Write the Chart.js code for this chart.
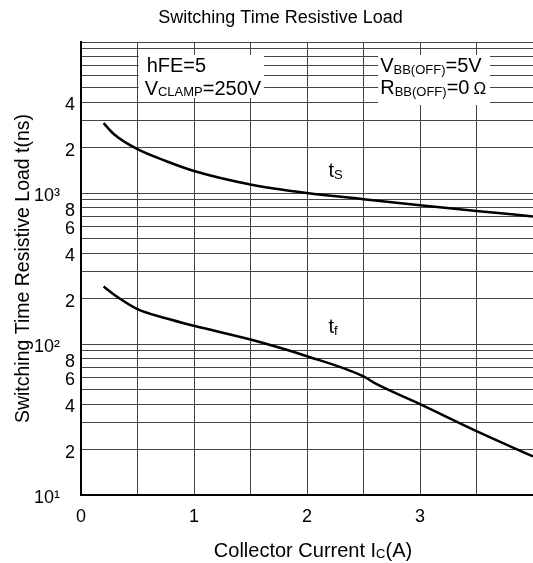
<!DOCTYPE html>
<html lang="en">
<head>
  <meta charset="UTF-8">
  <title>Switching Time Resistive Load</title>
  <script src="https://cdn.jsdelivr.net/npm/chart.js"></script>
  <style>
    body { margin: 0; background: #fff; }
  </style>
</head>
<body>
  <canvas id="chart" width="533" height="563"></canvas>

  <script>
    // Collector current (A) and switching times (ns)
    const icTs = [0.2, 0.3, 0.5, 0.75, 1, 1.5, 2, 2.5, 3, 3.5, 4];
    const tsValues = [2900, 2420, 1950, 1630, 1400, 1140, 1000, 910, 830, 760, 700];
    const icTf = [0.2, 0.3, 0.5, 0.75, 1, 1.5, 2, 2.5, 2.6, 3, 3.5, 4];
    const tfValues = [240, 210, 170, 148, 132, 107, 83, 61, 55, 40, 26.5, 18];

    const xLabels = ['0', '1', '2', '3'];
    const yDecades = [10, 100, 1000];
    const yMantissas = [1, 2, 3, 4, 5, 6, 7, 8, 9];
    const yMinorLabels = [2, 4, 6, 8];
    const supDigits = ['\u2070', '\u00b9', '\u00b2', '\u00b3', '\u2074'];

    const FONT = 'Arial, "Liberation Sans", sans-serif';

    function toPoints(xs, ys) {
      return xs.map((x, i) => ({ x: x, y: ys[i] }));
    }

    // parts: [text, fontSize, dy]
    function drawParts(ctx, x, y, parts) {
      for (const [text, size, dy] of parts) {
        ctx.font = size + 'px ' + FONT;
        ctx.fillText(text, x, y + dy);
        x += ctx.measureText(text).width;
      }
      return x;
    }
    function partsWidth(ctx, parts) {
      let w = 0;
      for (const [text, size] of parts) {
        ctx.font = size + 'px ' + FONT;
        w += ctx.measureText(text).width;
      }
      return w;
    }

    const annotations = {
      id: 'annotations',
      afterDatasetsDraw(chart) {
        const { ctx, scales: { x, y } } = chart;
        ctx.save();
        ctx.textAlign = 'left';
        ctx.textBaseline = 'alphabetic';

        // boxes that blank the grid behind the condition text
        const boxL = { x0: x.getPixelForValue(0.51), x1: x.getPixelForValue(1.62) };
        const boxR = { x0: x.getPixelForValue(2.63), x1: x.getPixelForValue(3.62) };
        const top = y.getPixelForValue(8200);
        ctx.fillStyle = '#fff';
        ctx.fillRect(boxL.x0, top, boxL.x1 - boxL.x0, 43);
        ctx.fillRect(boxR.x0, top, boxR.x1 - boxR.x0, 50);

        ctx.fillStyle = '#000';
        drawParts(ctx, boxL.x0 + 8, top + 17, [['hFE=5', 20, 0]]);
        drawParts(ctx, boxL.x0 + 6, top + 40, [['V', 20, 0], ['CLAMP', 13, 1], ['=250V', 20, 0]]);
        drawParts(ctx, boxR.x0 + 2, top + 17, [['V', 20, 0], ['BB(OFF)', 13, 2], ['=5V', 20, 0]]);
        const rx = drawParts(ctx, boxR.x0 + 2, top + 39, [['R', 20, 0], ['BB(OFF)', 13, 2], ['=0', 20, 0]]);
        drawParts(ctx, rx + 4, top + 39, [['\u03a9', 17, 0]]);

        // curve labels
        drawParts(ctx, x.getPixelForValue(2.19), y.getPixelForValue(1276), [['t', 20, 0], ['S', 13, 2]]);
        drawParts(ctx, x.getPixelForValue(2.19), y.getPixelForValue(118), [['t', 20, 0], ['f', 13, 2]]);

        // chart title
        ctx.textAlign = 'center';
        drawParts(ctx, 280.5, 23, [['Switching Time Resistive Load', 18, 0]]);
        ctx.textAlign = 'left';

        // x axis title with subscript
        const xParts = [['Collector Current I', 20, 0], ['C', 13, 1], ['(A)', 20, 0]];
        const w = partsWidth(ctx, xParts);
        drawParts(ctx, 313 - w / 2, 557, xParts);
        ctx.restore();
      }
    };

    const gridColor = '#444';

    new Chart(document.getElementById('chart'), {
      type: 'line',
      data: {
        datasets: [
          { label: 'ts', data: toPoints(icTs, tsValues), borderColor: '#000', borderWidth: 2.5,
            pointRadius: 0, cubicInterpolationMode: 'monotone', fill: false },
          { label: 'tf', data: toPoints(icTf, tfValues), borderColor: '#000', borderWidth: 2.5,
            pointRadius: 0, cubicInterpolationMode: 'monotone', fill: false }
        ]
      },
      options: {
        responsive: false,
        animation: false,
        layout: { padding: { top: 42, left: 0, right: 0, bottom: 0 } },
        plugins: {
          legend: { display: false },
          tooltip: { enabled: false },
          title: { display: false }
        },
        scales: {
          x: {
            type: 'linear',
            min: 0,
            max: 4,
            afterFit(scale) {
              scale.height = 68;
              scale.paddingLeft = 0;
              scale.paddingRight = 0;
            },
            grid: { color: gridColor, lineWidth: 1, drawTicks: false },
            border: { display: true, color: '#000', width: 2 },
            ticks: {
              stepSize: 0.5,
              autoSkip: false,
              maxRotation: 0,
              padding: 11,
              color: '#000',
              font: { family: FONT, size: 18 },
              callback(v) {
                return Number.isInteger(v) && v < xLabels.length ? xLabels[v] : '';
              }
            }
          },
          y: {
            type: 'logarithmic',
            min: 10,
            max: 10000,
            afterFit(scale) {
              scale.width = 81;
              scale.paddingTop = 0;
              scale.paddingBottom = 0;
            },
            afterBuildTicks(scale) {
              const ticks = [];
              yDecades.forEach(d => yMantissas.forEach(m => ticks.push({ value: m * d })));
              ticks.push({ value: 10000 });
              scale.ticks = ticks;
            },
            grid: { color: gridColor, lineWidth: 1, drawTicks: false },
            border: { display: true, color: '#000', width: 2 },
            title: {
              display: true,
              text: 'Switching Time Resistive Load t(ns)',
              color: '#000',
              font: { family: FONT, size: 19.5, lineHeight: 1.2 },
              padding: { top: 12, bottom: 0 }
            },
            ticks: {
              autoSkip: false,
              padding: 6,
              labelOffset: 3,
              color: '#000',
              font: { family: FONT, size: 18 },
              callback(v) {
                const e = Math.floor(Math.log10(v) + 1e-9);
                const m = Math.round(v / Math.pow(10, e));
                if (m === 1) return e < 4 ? '10' + supDigits[e] + '   ' : '';
                if (yMinorLabels.includes(m) && (e < 3 || m <= 4)) return String(m);
                return '';
              }
            }
          }
        }
      },
      plugins: [annotations]
    });
  </script>
</body>
</html>
